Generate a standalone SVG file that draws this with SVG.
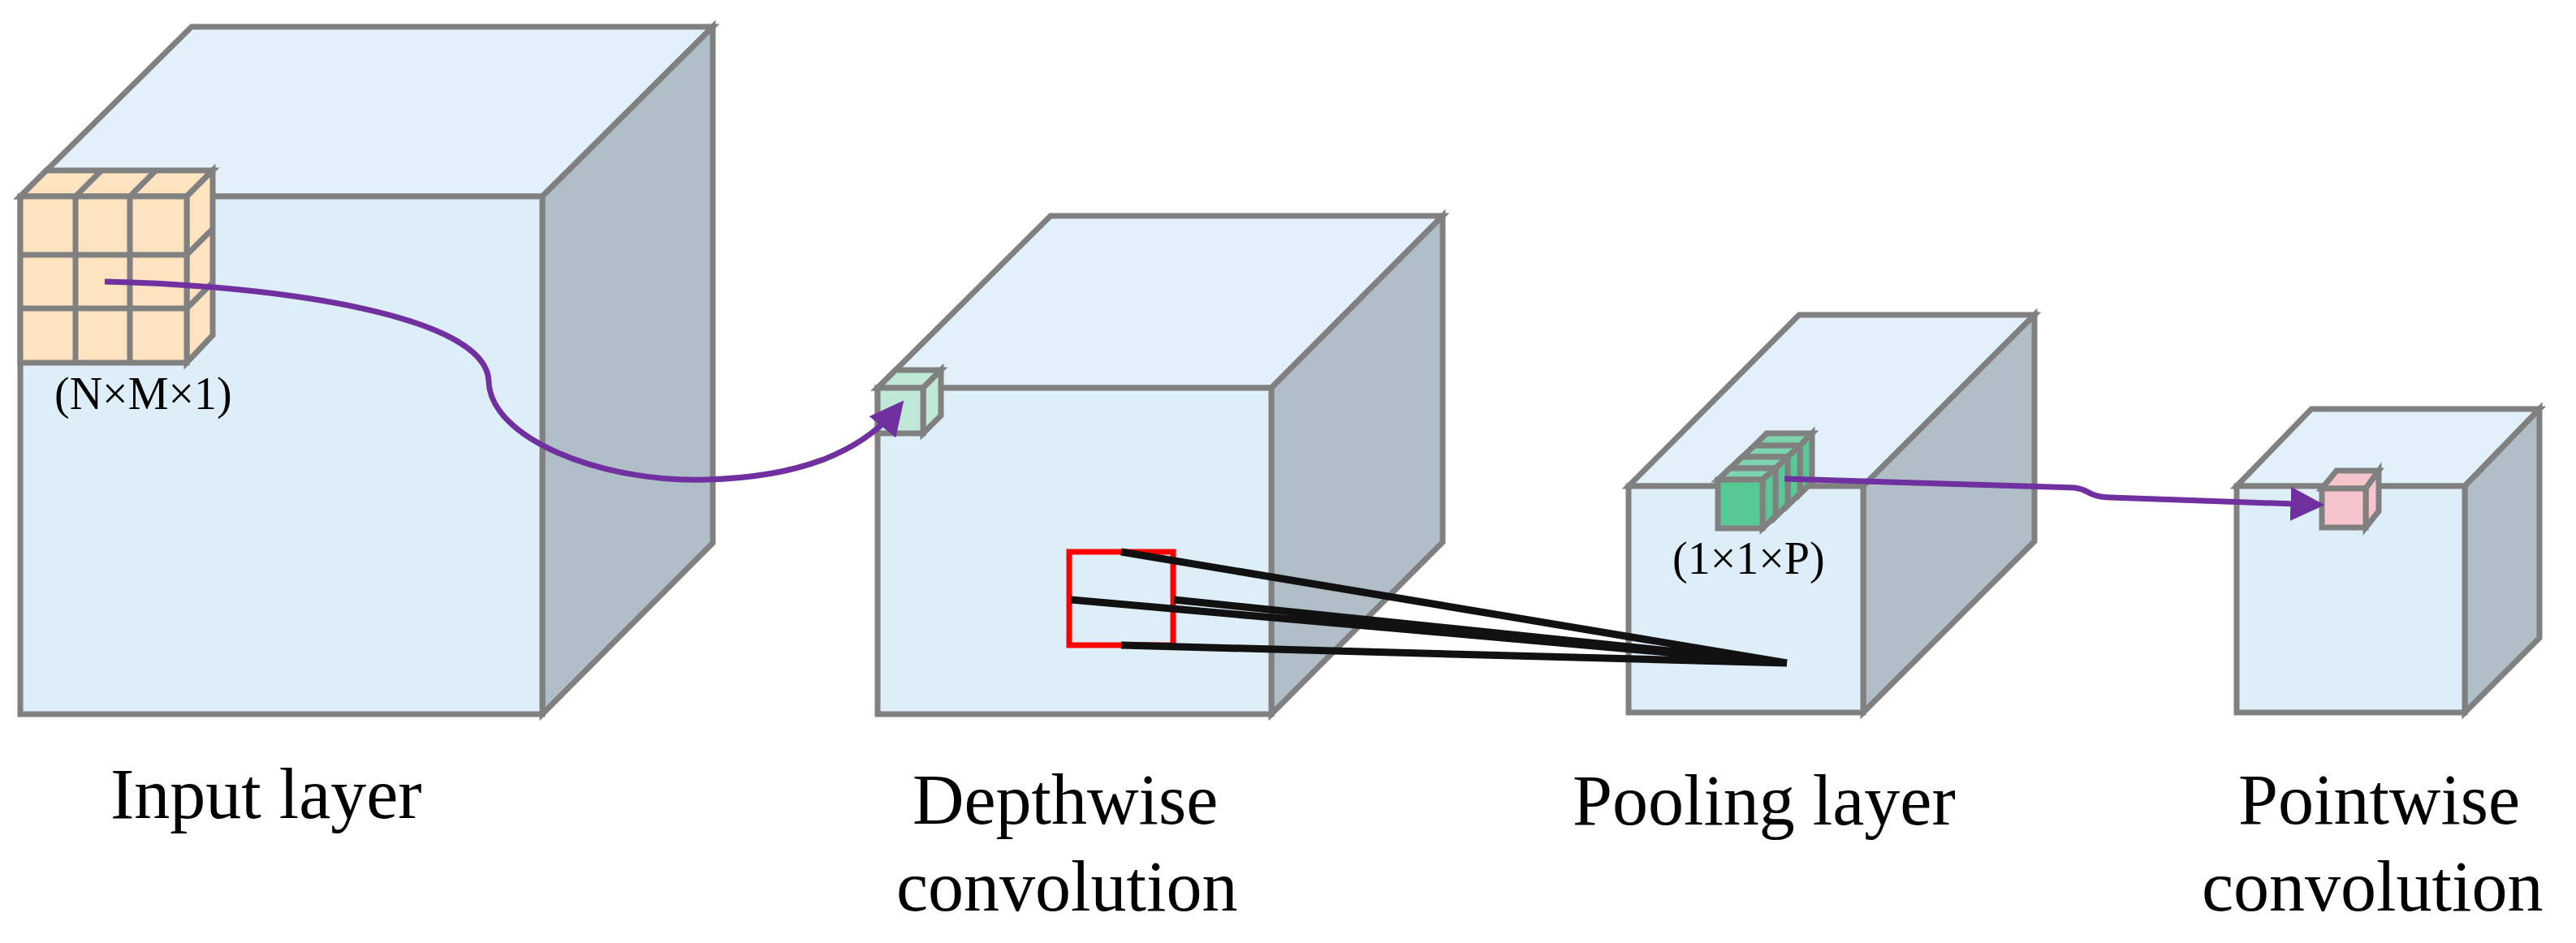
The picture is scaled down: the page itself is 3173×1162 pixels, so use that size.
<svg xmlns="http://www.w3.org/2000/svg" width="3173" height="1162" viewBox="0 0 3173 1162">
<style>
.e{stroke:#808080;stroke-width:7;stroke-linejoin:miter}
.f{fill:#ddeef9}.t{fill:#e2f0f9}.s{fill:#b0bec7}
.o{fill:#fde3c0}.g{fill:#bfe9d6}.gg{fill:#56c995}.gl{fill:#7dd4ae}.p{fill:#f6c4cc}
.lbl{font-family:"Liberation Serif",serif;font-size:88px;fill:#000}
.sm{font-family:"Liberation Serif",serif;font-size:56px;fill:#000}
.arr{fill:none;stroke:#7030a0;stroke-width:7}
.bl{stroke:#111;stroke-width:9;fill:none}
</style>
<defs>
<marker id="ah" viewBox="0 0 10 10" refX="8" refY="5" markerWidth="6" markerHeight="6" orient="auto" markerUnits="strokeWidth">
<path d="M0,0 L10,5 L0,10 z" fill="#7030a0"/>
</marker>
</defs>
<g id="input-layer">
<polygon class="e t" points="25,242 236,33 878,33 668,242"/>
<polygon class="e s" points="668,242 878,33 878,669 668,880"/>
<rect class="e f" x="25" y="242" width="643" height="638"/>
<g id="kernel">
<polygon class="e o" points="25,242 57,210 262,210 230,242"/>
<polygon class="e o" points="230,242 262,210 262,413 230,447"/>
<rect class="e o" x="25" y="242" width="205" height="205"/>
<path class="e" fill="none" d="M93,242V447M160,242V447M25,314H230M25,380H230M93,242L125,210M160,242L192,210M230,314L262,282M230,380L262,348"/>
</g>
<text class="sm" x="67" y="504">(N×M×1)</text>
<text class="lbl" x="136" y="1008">Input layer</text>
</g>
<g id="depthwise">
<polygon class="e t" points="1081,478 1294,266 1777,266 1566,478"/>
<polygon class="e s" points="1566,478 1777,266 1777,668 1566,880"/>
<rect class="e f" x="1081" y="478" width="485" height="402"/>
<polygon class="e g" points="1081,478 1103,456 1159,456 1137,478"/>
<polygon class="e g" points="1137,478 1159,456 1159,512 1137,534"/>
<rect class="e g" x="1081" y="478" width="56" height="56"/>
<rect x="1317" y="680" width="128" height="115" fill="none" stroke="#ff0000" stroke-width="7"/>
<text class="lbl" x="1124" y="1015">Depthwise</text>
<text class="lbl" x="1104" y="1122">convolution</text>
</g>
<g id="pooling">
<polygon class="e t" points="2006,599 2216,388 2506,388 2295,599"/>
<polygon class="e s" points="2295,599 2506,388 2506,667 2295,878"/>
<rect class="e f" x="2006" y="599" width="289" height="279"/>
<g id="stack">
<polygon class="e gl" points="2161,549 2176,534 2232,534 2217,549"/><polygon class="e gg" points="2217,549 2232,534 2232,594 2217,609"/>
<polygon class="e gl" points="2146,563 2161,549 2217,549 2202,563"/><polygon class="e gg" points="2202,563 2217,549 2217,608 2202,623"/>
<polygon class="e gl" points="2131,577 2146,563 2202,563 2187,577"/><polygon class="e gg" points="2187,577 2202,563 2202,622 2187,637"/>
<polygon class="e gl" points="2116,591 2131,577 2187,577 2171,591"/><polygon class="e gg" points="2171,591 2187,577 2187,636 2171,651"/>
<rect class="e gg" x="2116" y="591" width="55" height="60"/>
</g>
<text class="sm" x="2060" y="707">(1×1×P)</text>
<text class="lbl" x="1937" y="1016">Pooling layer</text>
</g>
<g id="pointwise">
<polygon class="e t" points="2755,599 2847,504 3128,504 3036,599"/>
<polygon class="e s" points="3036,599 3128,504 3128,786 3036,878"/>
<rect class="e f" x="2755" y="599" width="281" height="279"/>
<polygon class="e p" points="2860,602 2878,580 2930,580 2914,602"/>
<polygon class="e p" points="2914,602 2930,580 2930,630 2914,650"/>
<rect class="e p" x="2860" y="602" width="54" height="48"/>
<text class="lbl" x="2757" y="1015">Pointwise</text>
<text class="lbl" x="2712" y="1122">convolution</text>
</g>
<g id="connectors">
<path class="bl" d="M1381,680L2201,817M1319,739L2201,817M1446,739L2201,817M1381,795L2201,817"/>
<path class="arr" marker-end="url(#ah)" d="M129,347C350,352 600,390 602,470C604,540 740,595 870,591C980,588 1060,560 1108,500"/>
<path class="arr" marker-end="url(#ah)" d="M2198,590L2555,601C2575,603 2570,612 2600,613L2855,622"/>
</g>
</svg>
